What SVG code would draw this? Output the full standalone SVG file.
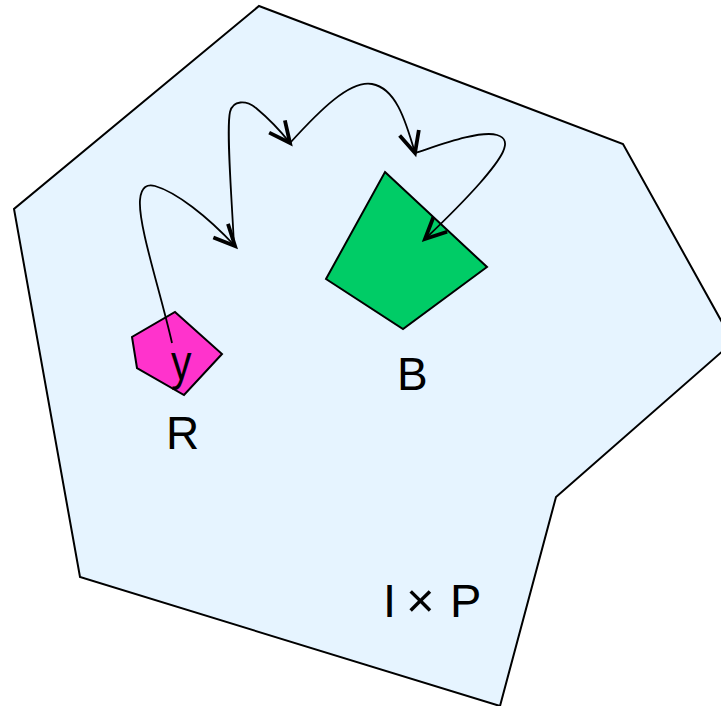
<svg xmlns="http://www.w3.org/2000/svg" width="721" height="706" viewBox="0 0 721 706">
<style>
.shape{stroke:#000;stroke-width:2;stroke-linejoin:miter}
.lbl{font-family:"Liberation Sans",Arial,sans-serif;fill:#000}
.conn{fill:none;stroke:#000;stroke-width:1.8;marker-end:url(#vhead)}
</style>
<defs>
<marker id="vhead" markerUnits="userSpaceOnUse" markerWidth="30" markerHeight="30" refX="0" refY="0" orient="auto" overflow="visible">
<path d="M-21,-10 L0,0 L-21,10" fill="none" stroke="#000" stroke-width="3.8"/>
</marker>
</defs>
<rect width="721" height="706" fill="#fff"/>
<g id="space">
<polygon class="shape" fill="#E6F4FF" points="259,6 623,144 733,342 556,497 500,706 80,577 14,209"/>
<text class="lbl" x="383" y="617" font-size="47">I<tspan x="406" font-size="49">×</tspan><tspan x="450">P</tspan></text>
</g>
<g id="R">
<polygon class="shape" fill="#FF33CC" points="175,312 222,354 184,395 137,368 132,337"/>
<text class="lbl" transform="translate(171,380) scale(1,1.22)" font-size="41">y</text>
<text class="lbl" x="166" y="449" font-size="46">R</text>
</g>
<g id="B">
<polygon class="shape" fill="#00CC66" points="385,172 487,267 403,329 326,279"/>
<text class="lbl" x="397" y="390" font-size="46">B</text>
</g>
<g id="connectors">
<path class="conn" d="M172,343 C160,290 138,225 140,200 C141,186 148,184 155,186 C176,192 207,216 235,246"/>
<path class="conn" d="M234,246 C232,200 226,130 230,112 C233,100 246,100 256,108 C268,118 279,129 290,143"/>
<path class="conn" d="M290,143 C320,110 350,80 372,84 C395,88 405,118 415,153"/>
<path class="conn" d="M415,153 C440,145 480,130 497,135 C515,140 500,160 480,183 C465,200 445,220 425,239"/>
</g>
</svg>
